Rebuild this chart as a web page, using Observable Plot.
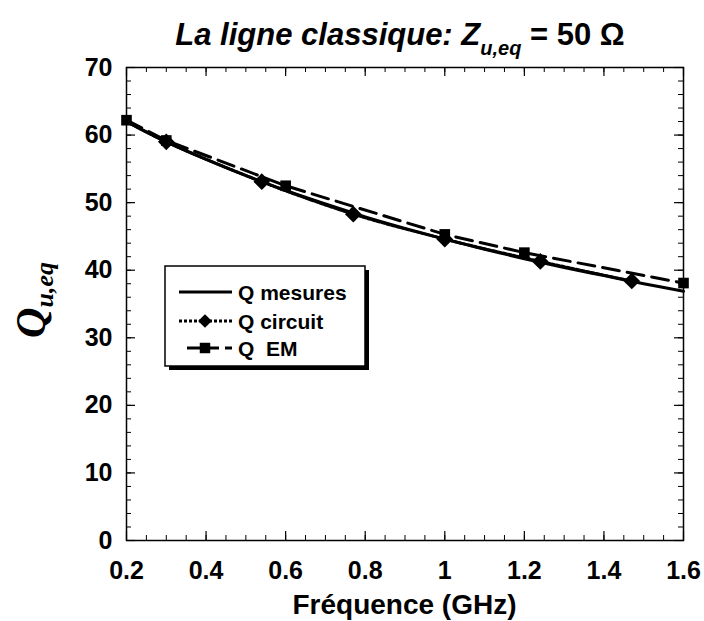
<!DOCTYPE html>
<html>
<head>
<meta charset="utf-8">
<script src="https://cdn.jsdelivr.net/npm/d3@7"></script>
<script src="https://cdn.jsdelivr.net/npm/@observablehq/plot@0.6"></script>
<style>
  html, body { margin: 0; padding: 0; background: #fff; }
  #chart svg { display: block; }
</style>
</head>
<body>
<div id="chart"></div>
<script>
// ---- data ----
const freqMesures = [0.2, 0.3, 0.4, 0.5, 0.6, 0.7, 0.8, 0.9, 1.0, 1.1, 1.2, 1.3, 1.4, 1.5, 1.6];
const qMesures    = [62.0, 59.0, 56.4, 54.0, 51.8, 49.8, 47.9, 46.2, 44.6, 43.1, 41.7, 40.4, 39.2, 38.0, 36.9];
const freqCircuit = [0.2, 0.3, 0.54, 0.77, 1.0, 1.24, 1.47];
const qCircuit    = [62.0, 59.0, 53.1, 48.3, 44.6, 41.3, 38.4];
const freqEM      = [0.2, 0.3, 0.6, 1.0, 1.2, 1.6];
const qEM         = [62.2, 59.2, 52.5, 45.3, 42.6, 38.1];

const xTicks = [0.2, 0.4, 0.6, 0.8, 1.0, 1.2, 1.4, 1.6];
const yTicks = [0, 10, 20, 30, 40, 50, 60, 70];
const xMinor = d3.range(0.2, 1.6001, 0.05);
const yMinor = d3.range(0, 70.001, 2);
const seriesNames = ["Q mesures", "Q circuit", "Q  EM"];

const mesures = freqMesures.map((f, i) => ({f, q: qMesures[i]}));
const circuit = freqCircuit.map((f, i) => ({f, q: qCircuit[i]}));
const em = freqEM.map((f, i) => ({f, q: qEM[i]}));

// ---- layout ----
const W = 704, H = 621, mL = 126, mR = 21, mT = 67, mB = 81;
const fW = W - mL - mR, fH = H - mT - mB;
const FONT = "'Liberation Sans', Arial, Helvetica, sans-serif";

const chart = Plot.plot({
  width: W, height: H,
  marginLeft: mL, marginRight: mR, marginTop: mT, marginBottom: mB,
  style: {fontFamily: FONT, fontWeight: "bold", fontSize: "25px", color: "#000", background: "#fff"},
  x: {domain: [0.2, 1.6], axis: null},
  y: {domain: [0, 70], axis: null},
  marks: [
    // minor ticks
    Plot.tickX(xMinor, {x: d => d, insetTop: fH - 5, stroke: "#000", strokeWidth: 1}),
    Plot.tickX(xMinor, {x: d => d, insetBottom: fH - 5, stroke: "#000", strokeWidth: 1}),
    Plot.tickY(yMinor, {y: d => d, insetRight: fW - 5, stroke: "#000", strokeWidth: 1}),
    Plot.tickY(yMinor, {y: d => d, insetLeft: fW - 5, stroke: "#000", strokeWidth: 1}),
    // major ticks
    Plot.tickX(xTicks, {x: d => d, insetTop: fH - 9, stroke: "#000", strokeWidth: 1.2}),
    Plot.tickX(xTicks, {x: d => d, insetBottom: fH - 9, stroke: "#000", strokeWidth: 1.2}),
    Plot.tickY(yTicks, {y: d => d, insetRight: fW - 9, stroke: "#000", strokeWidth: 1.2}),
    Plot.tickY(yTicks, {y: d => d, insetLeft: fW - 9, stroke: "#000", strokeWidth: 1.2}),
    Plot.frame({stroke: "#000", strokeWidth: 1.5}),
    Plot.axisX({ticks: xTicks, tickSize: 0, tickPadding: 21, tickFormat: d3.format("~g"),
                fontSize: 25, fontWeight: "bold", label: null}),
    Plot.axisY({ticks: yTicks, tickSize: 0, tickPadding: 14, tickFormat: d3.format("~g"),
                fontSize: 25, fontWeight: "bold", label: null}),
    // series
    Plot.line(mesures, {x: "f", y: "q", curve: "catmull-rom", stroke: "#000", strokeWidth: 3}),
    Plot.line(circuit, {x: "f", y: "q", curve: "catmull-rom", stroke: "#000", strokeWidth: 3, strokeDasharray: "3,2"}),
    Plot.line(em, {x: "f", y: "q", stroke: "#000", strokeWidth: 3, strokeDasharray: "17,8"}),
    Plot.dot(em, {x: "f", y: "q", symbol: "square", r: 6, fill: "#000", stroke: "none"}),
    Plot.dot(circuit.slice(1), {x: "f", y: "q", symbol: "diamond2", r: 7.5, fill: "#000", stroke: "none"})
  ]
});
document.getElementById("chart").appendChild(chart);

const svg = d3.select(chart);
svg.selectAll("g[aria-label='x-axis tick label'], g[aria-label='y-axis tick label']")
  .style("font-size", "25px").style("font-weight", "bold").style("font-family", FONT);

// ---- title ----
const title = svg.append("text")
  .attr("x", 400).attr("y", 45)
  .attr("text-anchor", "middle")
  .style("font-family", FONT).style("font-weight", "bold").style("font-size", "31px")
  .attr("fill", "#000");
title.append("tspan").style("font-style", "italic").text("La ligne classique: Z");
title.append("tspan").style("font-style", "italic").style("font-size", "20px").attr("dy", 10).text("u,eq");
title.append("tspan").attr("dy", -10).text(" = 50 \u03A9");

// ---- x axis title ----
svg.append("text")
  .attr("x", (mL + W - mR) / 2).attr("y", 614)
  .attr("text-anchor", "middle")
  .style("font-family", FONT).style("font-weight", "bold").style("font-size", "28px")
  .attr("fill", "#000")
  .text("Fréquence (GHz)");

// ---- y axis title ----
const yt = svg.append("text")
  .attr("transform", "translate(45,300) rotate(-90)")
  .attr("text-anchor", "middle")
  .style("font-family", "'Liberation Serif', 'Times New Roman', serif")
  .style("font-weight", "bold").style("font-style", "italic").style("font-size", "42px")
  .attr("fill", "#000");
yt.append("tspan").text("Q");
yt.append("tspan").style("font-size", "26px").attr("dy", 8).text("u,eq");

// ---- legend ----
const lg = svg.append("g").attr("transform", "translate(165,266)");
const bw = 200, bh = 100;
lg.append("rect").attr("x", 4).attr("y", 4).attr("width", bw).attr("height", bh).attr("fill", "#000");
lg.append("rect").attr("x", 0).attr("y", 0).attr("width", bw).attr("height", bh)
  .attr("fill", "#fff").attr("stroke", "#000").attr("stroke-width", 1.5);
const rowsY = [26, 55, 82];
const dashes = [null, "3,2", "13,6"];
const x0s = [14, 14, 22];
rowsY.forEach((yy, i) => {
  lg.append("line").attr("x1", x0s[i]).attr("x2", 67).attr("y1", yy).attr("y2", yy)
    .attr("stroke", "#000").attr("stroke-width", 3)
    .attr("stroke-dasharray", dashes[i]);
  if (i === 1) lg.append("path").attr("transform", `translate(40,${yy})`)
    .attr("d", d3.symbol(d3.symbolDiamond2, 120)()).attr("fill", "#000");
  if (i === 2) lg.append("path").attr("transform", `translate(40,${yy})`)
    .attr("d", d3.symbol(d3.symbolSquare, 110)()).attr("fill", "#000");
  lg.append("text").attr("x", 73).attr("y", yy).attr("dy", "0.36em")
    .attr("text-anchor", "start")
    .style("font-family", FONT).style("font-weight", "bold").style("font-size", "21px")
    .attr("fill", "#000").attr("xml:space", "preserve")
    .text(seriesNames[i]);
});
</script>
</body>
</html>
